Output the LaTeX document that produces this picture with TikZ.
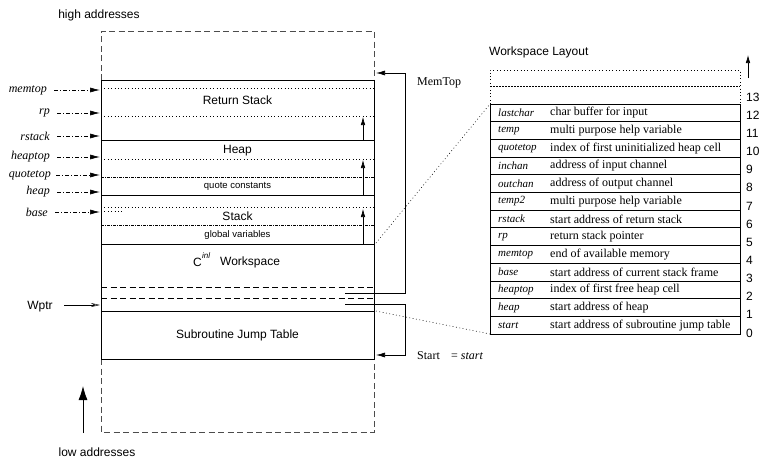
\documentclass[tikz,border=0pt]{standalone}
\usepackage{fontspec}
\setmainfont{Liberation Serif}
\newfontfamily\hv{Liberation Sans}
\usetikzlibrary{arrows.meta}
\begin{document}
\begin{tikzpicture}[x=1pt,y=-1pt,
  sanstxt/.style={font=\hv\fontsize{12}{14}\selectfont, inner sep=0pt},
  smallsans/.style={font=\hv\fontsize{9.5}{11}\selectfont, inner sep=0pt},
  italtxt/.style={font=\itshape\fontsize{12}{14}\selectfont, inner sep=0pt},
  seriftxt/.style={font=\fontsize{12}{14}\selectfont, inner sep=0pt},
  tname/.style={font=\itshape\fontsize{11}{13}\selectfont, inner sep=0pt, anchor=west},
  tdesc/.style={font=\fontsize{12}{14}\selectfont, inner sep=0pt, anchor=west},
  solidl/.style={line width=0.8pt},
  ptrarrow/.style={line width=0.6pt, dash pattern=on 4pt off 2pt on 1pt off 2pt, -{Latex[length=10pt,width=5pt]}},
  growarrow/.style={line width=0.6pt, -{Latex[length=8pt,width=4.5pt]}},
  dotl/.style={line width=0.6pt, dash pattern=on 0.8pt off 2.6pt},
  dashdotl/.style={line width=0.6pt, dash pattern=on 3pt off 1pt on 1pt off 1pt},
  dashl/.style={line width=0.8pt, dash pattern=on 6pt off 3.5pt},
  memframe/.style={line width=0.8pt, dash pattern=on 6pt off 3.5pt, black!70},
  brk/.style={line width=0.7pt, -{Latex[length=9pt,width=5pt]}}
]
\useasboundingbox (0,0) rectangle (760,459);

% ---------- main memory column ----------
\coordinate (mTL) at (101,80);
\coordinate (mBR) at (374,359);
\draw[memframe] (101,80) -- (101,31) -- (374,31) -- (374,80);
\draw[memframe] (101,359) -- (101,432) -- (374,432) -- (374,359);
\draw[solidl] (mTL) rectangle (mBR);

\draw[dotl] (101,88) -- (374,88);
\draw[dotl] (101,116) -- (374,116);
\draw[solidl] (101,140) -- (374,140);
\draw[dotl] (101,159) -- (374,159);
\draw[dashdotl] (101,177) -- (374,177);
\draw[solidl] (101,195) -- (374,195);
\draw[dotl] (101,207) -- (374,207);
\draw[dotl] (101,211) -- (122,211);
\draw[dashdotl] (101,225) -- (374,225);
\draw[solidl] (101,244) -- (374,244);
\draw[dashl] (101,287) -- (374,287);
\draw[dashl] (101,298) -- (374,298);
\draw[solidl] (101,311) -- (374,311);

\node[sanstxt] (rs) at (237.5,100) {Return Stack};
\node[sanstxt] (hp) at (237.5,151) {Heap};
\node[smallsans] (qc) at (237.5,186) {quote constants};
\node[sanstxt] (st) at (237.5,216) {Stack};
\node[smallsans] (gv) at (237.5,235) {global variables};
\node[sanstxt, anchor=east] (cc) at (202,262) {C};
\node[font=\hv\itshape\fontsize{8}{9}\selectfont, inner sep=0pt, anchor=west] (inl) at (202,256) {inl};
\node[sanstxt, anchor=west] (ws) at (220,262) {Workspace};
\node[sanstxt] (sjt) at (237.5,335) {Subroutine Jump Table};

% growth arrows
\coordinate (g1a) at (363,140); \coordinate (g1b) at (363,117);
\coordinate (g2a) at (363,195); \coordinate (g2b) at (363,160);
\coordinate (g3a) at (363,244); \coordinate (g3b) at (363,209);
\draw[growarrow] (g1a) -- (g1b);
\draw[growarrow] (g2a) -- (g2b);
\draw[growarrow] (g3a) -- (g3b);

% pointer labels
\node[italtxt, anchor=east] (lmemtop) at (47,90) {memtop};
\node[italtxt, anchor=east] (lrp) at (50,113) {rp};
\node[italtxt, anchor=east] (lrstack) at (50,136) {rstack};
\node[italtxt, anchor=east] (lheaptop) at (50,157) {heaptop};
\node[italtxt, anchor=east] (lquotetop) at (51,175) {quotetop};
\node[italtxt, anchor=east] (lheap) at (50,192) {heap};
\node[italtxt, anchor=east] (lbase) at (48,212) {base};
\coordinate (pmemtop) at (100,90);
\coordinate (prp) at (100,113);
\coordinate (prstack) at (100,136);
\coordinate (pheaptop) at (100,157);
\coordinate (pquotetop) at (100,175);
\coordinate (pheap) at (100,192);
\coordinate (pbase) at (100,212);
\draw[ptrarrow] ([xshift=7pt]lmemtop.east) -- (pmemtop);
\draw[ptrarrow] ([xshift=7pt]lrp.east) -- (prp);
\draw[ptrarrow] ([xshift=7pt]lrstack.east) -- (prstack);
\draw[ptrarrow] ([xshift=7pt]lheaptop.east) -- (pheaptop);
\draw[ptrarrow] ([xshift=5pt]lquotetop.east) -- (pquotetop);
\draw[ptrarrow] ([xshift=7pt]lheap.east) -- (pheap);
\draw[ptrarrow] ([xshift=7pt]lbase.east) -- (pbase);

% Wptr
\node[sanstxt] (wptr) at (40,307) {Wptr};
\coordinate (pw) at (100,305);
\draw[line width=0.5pt, -{Stealth[open,length=9pt,width=4pt]}] (64,305) -- (pw);

% high / low addresses
\node[sanstxt] (high) at (99,15) {high addresses};
\node[sanstxt] (low) at (97,452) {low addresses};
\coordinate (ua) at (83,433); \coordinate (ub) at (83,386);
\draw[line width=0.8pt, -{Latex[length=14pt,width=9pt]}] (ua) -- (ub);

% MemTop / Start brackets
\coordinate (mt1) at (345,293); \coordinate (mt2) at (376,73);
\draw[brk] (mt1) -- (405,293) -- (405,73) -- (mt2);
\node[seriftxt, anchor=west] (memtopl) at (417,83) {MemTop};
\coordinate (sa1) at (345,304); \coordinate (sa2) at (376,355);
\draw[brk] (sa1) -- (405,304) -- (405,355) -- (sa2);
\node[seriftxt, anchor=west] (startl) at (417,356) {Start};
\node[seriftxt, anchor=west] (starteq) at (451,356) {= \textit{start}};

% ---------- workspace layout table ----------
\node[sanstxt, anchor=west] (wl) at (489,52) {Workspace Layout};
\coordinate (tTL) at (490,104);
\coordinate (tBR) at (740,334);
\draw[dotl] (490,104) -- (490,70) -- (740,70) -- (740,104);
\draw[line width=0.6pt, dash pattern=on 2pt off 1pt] (490,86) -- (740,86);
\draw[line width=0.8pt] (tTL) rectangle (tBR);
\coordinate (ta) at (748,78); \coordinate (tb) at (748,55);
\draw[line width=0.7pt, -{Latex[length=8pt,width=4.5pt]}] (ta) -- (tb);

\foreach \nm/\ds [count=\i from 0] in {
  lastchar/char buffer for input,
  temp/multi purpose help variable,
  quotetop/index of first uninitialized heap cell,
  inchan/address of input channel,
  outchan/address of output channel,
  temp2/multi purpose help variable,
  rstack/start address of return stack,
  rp/return stack pointer,
  memtop/end of available memory,
  base/start address of current stack frame,
  heaptop/index of first free heap cell,
  heap/start address of heap,
  start/start address of subroutine jump table} {
  \pgfmathsetmacro{\yc}{104+17.69*(\i+0.5)}
  \node[tname] (n\i) at (498,\yc) {\nm};
  \node[tdesc] (d\i) at (550,\yc) {\ds};
  \ifnum\i>0 \draw[line width=0.8pt] (490,{104+17.69*\i}) -- (740,{104+17.69*\i}); \fi
}
\foreach \k in {0,...,13} {
  \pgfmathsetmacro{\yn}{333-18.15*\k}
  \node[sanstxt, anchor=west] (num\k) at (746,\yn) {\k};
}

% zoom connectors
\coordinate (z1) at (376,243);
\coordinate (z2) at (376,311);
\draw[dotl] (z1) -- (tTL);
\draw[dotl] (z2) -- (490,334);
\end{tikzpicture}
\end{document}
